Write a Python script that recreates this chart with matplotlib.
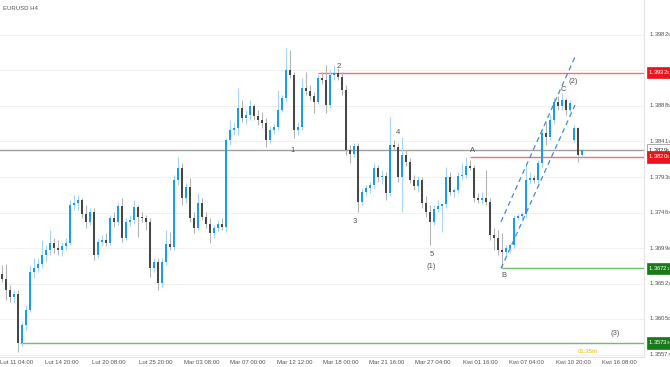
import matplotlib.pyplot as plt
import matplotlib.transforms as mtransforms

plt.rcParams['font.family'] = ['Liberation Sans', 'DejaVu Sans']

# EURUSD H4 candles (each candle here stands for roughly two H4 bars)
opens = [1.3665, 1.3658, 1.3643, 1.3634, 1.3638, 1.3573, 1.3597, 1.3617, 1.3667, 1.3673,
         1.3678, 1.3690, 1.3696, 1.3706, 1.3699, 1.3696, 1.3702, 1.3706, 1.3756, 1.3759,
         1.3763, 1.3744, 1.3734, 1.3747, 1.3690, 1.3707, 1.3710, 1.3706, 1.3739, 1.3734,
         1.3755, 1.3712, 1.3734, 1.3736, 1.3754, 1.3740, 1.3739, 1.3734, 1.3673, 1.3681,
         1.3653, 1.3681, 1.3704, 1.3700, 1.3789, 1.3805, 1.3766, 1.3780, 1.3739, 1.3726,
         1.3759, 1.3740, 1.3731, 1.3719, 1.3726, 1.3731, 1.3727, 1.3843, 1.3856, 1.3858,
         1.3885, 1.3872, 1.3876, 1.3888, 1.3874, 1.3869, 1.3865, 1.3843, 1.3856, 1.3860,
         1.3882, 1.3898, 1.3936, 1.3929, 1.3856, 1.3860, 1.3912, 1.3908, 1.3901, 1.3893,
         1.3925, 1.3922, 1.3889, 1.3929, 1.3932, 1.3926, 1.3909, 1.3829, 1.3824, 1.3835,
         1.3760, 1.3774, 1.3779, 1.3783, 1.3805, 1.3793, 1.3795, 1.3772, 1.3836, 1.3833,
         1.3793, 1.3823, 1.3813, 1.3789, 1.3781, 1.3789, 1.3759, 1.3747, 1.3734, 1.3751,
         1.3755, 1.3758, 1.3793, 1.3774, 1.3776, 1.3795, 1.3796, 1.3808, 1.3805, 1.3766,
         1.3763, 1.3766, 1.3760, 1.3716, 1.3712, 1.3696, 1.3694, 1.3699, 1.3703, 1.3739,
         1.3742, 1.3744, 1.3789, 1.3792, 1.3789, 1.3812, 1.3852, 1.3847, 1.3869, 1.3893,
         1.3888, 1.3896, 1.3882, 1.3843, 1.3858, 1.3823]
highs = [1.3677, 1.3678, 1.3650, 1.3643, 1.3643, 1.3601, 1.3623, 1.3677, 1.3686, 1.3686,
         1.3710, 1.3703, 1.3723, 1.3712, 1.3710, 1.3707, 1.3712, 1.3763, 1.3770, 1.3770,
         1.3766, 1.3756, 1.3752, 1.3752, 1.3712, 1.3716, 1.3719, 1.3743, 1.3747, 1.3759,
         1.3766, 1.3739, 1.3743, 1.3763, 1.3756, 1.3747, 1.3743, 1.3739, 1.3686, 1.3686,
         1.3686, 1.3723, 1.3720, 1.3796, 1.3820, 1.3812, 1.3785, 1.3792, 1.3747, 1.3772,
         1.3766, 1.3747, 1.3739, 1.3730, 1.3736, 1.3739, 1.3845, 1.3869, 1.3866, 1.3912,
         1.3896, 1.3882, 1.3896, 1.3890, 1.3882, 1.3880, 1.3872, 1.3861, 1.3864, 1.3909,
         1.3902, 1.3965, 1.3962, 1.3933, 1.3866, 1.3925, 1.3933, 1.3916, 1.3906, 1.3929,
         1.3933, 1.3942, 1.3936, 1.3942, 1.3938, 1.3933, 1.3916, 1.3836, 1.3839, 1.3839,
         1.3779, 1.3783, 1.3787, 1.3812, 1.3809, 1.3803, 1.3800, 1.3873, 1.3843, 1.3839,
         1.3847, 1.3829, 1.3819, 1.3796, 1.3795, 1.3793, 1.3768, 1.3756, 1.3756, 1.3763,
         1.3759, 1.3807, 1.3800, 1.3779, 1.3800, 1.3812, 1.3820, 1.3816, 1.3809, 1.3772,
         1.3774, 1.3803, 1.3766, 1.3726, 1.3723, 1.3719, 1.3703, 1.3704, 1.3743, 1.3744,
         1.3747, 1.3809, 1.3800, 1.3796, 1.3816, 1.3858, 1.3866, 1.3876, 1.3898, 1.3901,
         1.3905, 1.3898, 1.3896, 1.3862, 1.3860, 1.3831]
lows = [1.3654, 1.3630, 1.3627, 1.3626, 1.3561, 1.3569, 1.3590, 1.3614, 1.3659, 1.3667,
        1.3673, 1.3681, 1.3690, 1.3692, 1.3690, 1.3688, 1.3696, 1.3703, 1.3750, 1.3750,
        1.3739, 1.3726, 1.3730, 1.3683, 1.3686, 1.3702, 1.3702, 1.3703, 1.3727, 1.3730,
        1.3707, 1.3710, 1.3728, 1.3731, 1.3714, 1.3734, 1.3723, 1.3661, 1.3667, 1.3643,
        1.3647, 1.3677, 1.3696, 1.3696, 1.3783, 1.3756, 1.3759, 1.3734, 1.3719, 1.3723,
        1.3736, 1.3726, 1.3706, 1.3712, 1.3720, 1.3723, 1.3720, 1.3836, 1.3849, 1.3849,
        1.3866, 1.3864, 1.3869, 1.3869, 1.3862, 1.3858, 1.3833, 1.3839, 1.3851, 1.3856,
        1.3880, 1.3893, 1.3925, 1.3845, 1.3849, 1.3856, 1.3902, 1.3896, 1.3878, 1.3890,
        1.3917, 1.3878, 1.3885, 1.3922, 1.3922, 1.3902, 1.3823, 1.3812, 1.3820, 1.3747,
        1.3756, 1.3768, 1.3772, 1.3779, 1.3787, 1.3784, 1.3763, 1.3768, 1.3829, 1.3787,
        1.3747, 1.3808, 1.3785, 1.3776, 1.3774, 1.3752, 1.3740, 1.3703, 1.3730, 1.3747,
        1.3720, 1.3752, 1.3770, 1.3767, 1.3772, 1.3789, 1.3792, 1.3803, 1.3760, 1.3759,
        1.3758, 1.3756, 1.3710, 1.3696, 1.3690, 1.3672, 1.3688, 1.3694, 1.3699, 1.3736,
        1.3736, 1.3739, 1.3784, 1.3785, 1.3784, 1.3805, 1.3836, 1.3843, 1.3864, 1.3882,
        1.3882, 1.3876, 1.3880, 1.3840, 1.3813, 1.3820]
closes = [1.3658, 1.3643, 1.3634, 1.3638, 1.3573, 1.3597, 1.3617, 1.3667, 1.3673, 1.3678,
          1.3690, 1.3696, 1.3706, 1.3699, 1.3696, 1.3702, 1.3706, 1.3756, 1.3759, 1.3763,
          1.3744, 1.3734, 1.3747, 1.3690, 1.3707, 1.3710, 1.3706, 1.3739, 1.3734, 1.3755,
          1.3712, 1.3734, 1.3736, 1.3754, 1.3740, 1.3739, 1.3734, 1.3673, 1.3681, 1.3653,
          1.3681, 1.3704, 1.3700, 1.3789, 1.3805, 1.3766, 1.3780, 1.3739, 1.3726, 1.3759,
          1.3740, 1.3731, 1.3719, 1.3726, 1.3731, 1.3727, 1.3843, 1.3856, 1.3858, 1.3885,
          1.3872, 1.3876, 1.3888, 1.3874, 1.3869, 1.3865, 1.3843, 1.3856, 1.3860, 1.3882,
          1.3898, 1.3936, 1.3929, 1.3856, 1.3860, 1.3912, 1.3908, 1.3901, 1.3893, 1.3925,
          1.3922, 1.3889, 1.3929, 1.3932, 1.3926, 1.3909, 1.3829, 1.3824, 1.3835, 1.3760,
          1.3774, 1.3779, 1.3783, 1.3805, 1.3793, 1.3795, 1.3772, 1.3836, 1.3833, 1.3793,
          1.3823, 1.3813, 1.3789, 1.3781, 1.3789, 1.3759, 1.3747, 1.3734, 1.3751, 1.3755,
          1.3758, 1.3793, 1.3774, 1.3776, 1.3795, 1.3796, 1.3808, 1.3805, 1.3766, 1.3763,
          1.3766, 1.3760, 1.3716, 1.3712, 1.3696, 1.3694, 1.3699, 1.3703, 1.3739, 1.3742,
          1.3744, 1.3789, 1.3792, 1.3789, 1.3812, 1.3852, 1.3847, 1.3869, 1.3893, 1.3888,
          1.3896, 1.3882, 1.3892, 1.3858, 1.3823, 1.3829]

time_labels = ['Lut 11 04:00', 'Lut 14 20:00', 'Lut 20 08:00', 'Lut 25 20:00',
               'Mar 03 08:00', 'Mar 07 00:00', 'Mar 12 12:00', 'Mar 18 00:00',
               'Mar 21 16:00', 'Mar 27 04:00', 'Kwi 01 16:00', 'Kwi 07 04:00',
               'Kwi 10 20:00', 'Kwi 16 08:00']
time_pos = [3.75, 15, 26.75, 38.5, 50, 61.5, 73.25, 84.75, 96.25, 107.75, 119.5, 131, 142.75, 154.25]

price_ticks = [1.3982, 1.3935, 1.3888, 1.3841, 1.3793, 1.3746, 1.3699, 1.3652, 1.3605, 1.3557]
price_small = ['5', '5', '5', '1', '5', '7', '6', '1', '0', '7']

# horizontal levels: (price, start index, colour, box colour, text colour, small digit)
levels = [(1.3932, 79, '#ff6b6b', '#e8141e', 'white', '5'),
          (1.3829, -1, '#a0a0a0', 'white', '#333333', '5'),
          (1.3820, 117, '#ff6b6b', '#e8141e', 'white', '5'),
          (1.3672, 125, '#6cbf6c', '#1a7a1a', 'white', '1'),
          (1.3573, 4.5, '#6cbf6c', '#1a7a1a', 'white', '9')]

# wave labels
wave_text = ['1', '2', '3', '4', '5', '(1)', 'A', 'B', 'C', '(2)', '(3)']
wave_x = [72.75, 84.25, 88.25, 99, 107.5, 107.25, 117.75, 125.5, 140.25, 142.75, 153.25]
wave_y = [1.3829, 1.3940, 1.3734, 1.3853, 1.3691, 1.3675, 1.3829, 1.3662, 1.3910, 1.3920, 1.3585]

# rising channel (dashed)
chan_x = [124.75, 143.25]
chan_upper = [1.3734, 1.3953]
chan_lower = [1.3672, 1.3889]

fig = plt.figure(figsize=(6.7, 3.67), dpi=100)
ax = fig.add_axes([0, 10 / 367, 644 / 670, 357 / 367])
ax.set_xlim(-0.5, 160.5)
ax.set_ylim(1.35544, 1.40285)

bull_body, bull_wick = '#1e9be6', '#a6d6f5'
bear_body, bear_wick = '#474747', '#b4b4b4'

for hl in price_ticks:
    ax.axhline(hl, color='#f1f1f1', lw=0.8, zorder=0)

for i in range(len(opens)):
    o, h, l, c = opens[i], highs[i], lows[i], closes[i]
    up = c >= o
    ax.vlines(i, l, h, color=bull_wick if up else bear_wick, lw=0.8, zorder=2)
    ax.bar(i, max(abs(c - o), 0.00006), bottom=min(o, c), width=0.55,
           color=bull_body if up else bear_body, lw=0, zorder=3)

trans = mtransforms.blended_transform_factory(ax.transAxes, ax.transData)
for price, start, col, box, tcol, dig in levels:
    ax.hlines(price, start, 160.5, color=col, lw=1.0, zorder=1)
    ax.text(1.006, price, f'{price:.4f}$\\mathregular{{_{dig}}}$', transform=trans,
            fontsize=4.3, color=tcol, va='center', ha='left', clip_on=False, zorder=6,
            bbox=dict(boxstyle='square,pad=0.22', fc=box,
                      ec='#888888' if box == 'white' else box, lw=0.5))

for price, dig in zip(price_ticks, price_small):
    if abs(price - 1.3935) < 1e-6:
        continue
    ax.text(1.007, price, f'{price:.4f}$\\mathregular{{_{dig}}}$', transform=trans,
            fontsize=4.3, color='#555555', va='center', ha='left', clip_on=False)

ax.plot(chan_x, chan_upper, ls=(0, (4, 3)), color='#3d8ae6', lw=0.9, zorder=4)
ax.plot(chan_x, chan_lower, ls=(0, (4, 3)), color='#3d8ae6', lw=0.9, zorder=4)

for t, x, y in zip(wave_text, wave_x, wave_y):
    ax.text(x, y, t, fontsize=5.5, color='#555555', ha='center', va='center', zorder=5)

ax.text(146.5, 1.3562, '01:35m', fontsize=4.3, color='#f0b400', ha='center', va='center')

ax.set_xticks(time_pos)
ax.set_xticklabels(time_labels, fontsize=4.3, color='#555555')
ax.tick_params(axis='x', length=0, pad=2)
ax.set_yticks([])
for s in ax.spines.values():
    s.set_color('#e4e4e4')
    s.set_linewidth(0.8)
ax.spines['left'].set_visible(False)
ax.spines['top'].set_visible(False)

fig.text(3 / 670, 1 - 8 / 367, 'EURUSD H4', fontsize=4.3, color='#555555', va='center')

plt.savefig('out.png', dpi=100)
